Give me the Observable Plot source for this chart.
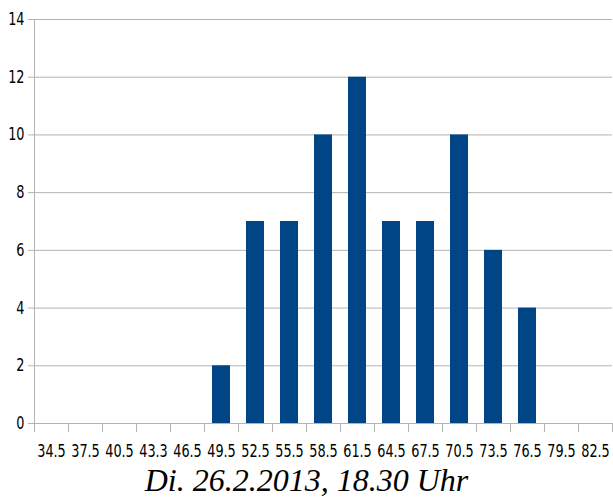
<!DOCTYPE html>
<html>
<head>
<meta charset="utf-8">
<script src="https://cdn.jsdelivr.net/npm/d3@7"></script>
<script src="https://cdn.jsdelivr.net/npm/@observablehq/plot@0.6"></script>
<style>
  html, body { margin: 0; padding: 0; background: #fff; }
  #chart { width: 613px; }
  #chart svg text { font-stretch: condensed; }
  .title { font-family: "Liberation Serif", "DejaVu Serif", serif; font-style: italic; font-size: 32px; line-height: 36px; text-align: center; color: #000; width: 613px; margin-top: 2px; }
</style>
</head>
<body>
<div id="chart"></div>
<script>
const categories = ["34.5","37.5","40.5","43.3","46.5","49.5","52.5","55.5","58.5","61.5","64.5","67.5","70.5","73.5","76.5","79.5","82.5"];
const counts = [0,0,0,0,0,2,7,7,10,12,7,7,10,6,4,0,0];
const yTicks = [0,2,4,6,8,10,12,14];
const titleText = "Di. 26.2.2013, 18.30 Uhr";

const data = categories.map((c, i) => ({cat: c, n: counts[i]}));
const W = 613, mL = 34, mR = 1;
const half = (W - mL - mR) / categories.length / 2;

const chart = Plot.plot({
  width: W,
  height: 460,
  marginLeft: mL,
  marginRight: mR,
  marginTop: 19,
  marginBottom: 37,
  style: {fontFamily: "'Liberation Sans Narrow', 'DejaVu Sans Condensed', 'DejaVu Sans', sans-serif", fontSize: "17px", color: "#000", background: "#fff"},
  x: {type: "band", domain: categories, paddingInner: 0.47, paddingOuter: 0.235, align: 0.5, label: null},
  y: {domain: [0, 14], label: null},
  marks: [
    Plot.ruleY(yTicks, {stroke: "#b3b3b3", strokeWidth: 1, insetLeft: -6, strokeOpacity: 1}),
    Plot.ruleX([categories[0]], {dx: -half, y1: 0, y2: 14, stroke: "#b3b3b3"}),
    Plot.ruleX(categories, {dx: -half, y1: 0, y2: 0, insetBottom: -9, stroke: "#b3b3b3"}),
    Plot.ruleX([categories[categories.length - 1]], {dx: half, y1: 0, y2: 0, insetBottom: -9, stroke: "#b3b3b3"}),
    Plot.barY(data, {x: "cat", y: "n", fill: "#004586"}),
    Plot.axisY({ticks: yTicks, tickSize: 0, tickPadding: 10, label: null}),
    Plot.axisX({tickSize: 0, tickPadding: 21, label: null})
  ]
});
// narrow the tick labels horizontally, like the original's narrow font
d3.select(chart).selectAll('g[aria-label="x-axis tick label"] text, g[aria-label="y-axis tick label"] text').each(function() {
  const tr = this.getAttribute("transform");
  if (tr) this.setAttribute("transform", tr + " scale(0.84,1)");
});
document.getElementById("chart").appendChild(chart);
const t = document.createElement("div");
t.className = "title";
t.textContent = titleText;
document.body.appendChild(t);
</script>
</body>
</html>
